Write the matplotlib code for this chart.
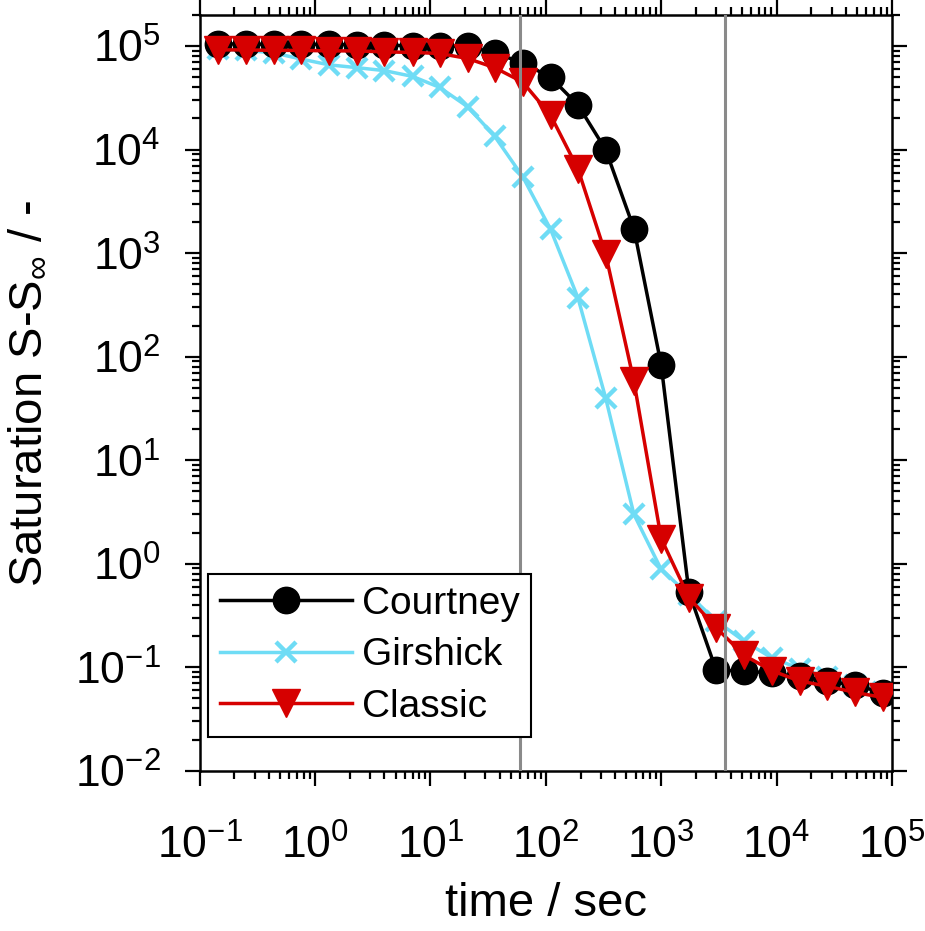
import matplotlib
matplotlib.use("Agg")
import matplotlib.pyplot as plt
from matplotlib import ticker

plt.rcParams["font.family"] = ["Liberation Sans", "DejaVu Sans"]
plt.rcParams["mathtext.fontset"] = "custom"
plt.rcParams["mathtext.rm"] = "Liberation Sans"
plt.rcParams["mathtext.it"] = "Liberation Sans:italic"
plt.rcParams["mathtext.bf"] = "Liberation Sans:bold"
plt.rcParams["axes.unicode_minus"] = False

# time points (s), shared by all three series
time_s = [0.145, 0.25, 0.44, 0.76, 1.32, 2.3, 4.0, 7.0, 12.0, 21.0, 36.0,
          63.0, 110.0, 190.0, 330.0, 580.0, 1000.0, 1740.0, 3000.0, 5250.0,
          9100.0, 15800.0, 27500.0, 48000.0, 83000.0]

courtney = [1.05e5, 1.05e5, 1.04e5, 1.04e5, 1.04e5, 1.03e5, 1.02e5, 1.01e5,
            1.0e5, 1.0e5, 8.6e4, 6.9e4, 5.0e4, 2.7e4, 1.0e4, 1.73e3, 83.0,
            0.53, 0.093, 0.0925, 0.087, 0.0815, 0.0735, 0.0668, 0.0569]

girshick = [9.4e4, 9.1e4, 8.6e4, 7.5e4, 6.6e4, 6.2e4, 5.8e4, 5.1e4, 4.0e4,
            2.6e4, 1.35e4, 5.5e3, 1.7e3, 370.0, 40.0, 3.0, 0.88, 0.5, 0.28,
            0.178, 0.123, 0.097, 0.08, 0.068, 0.058]

classic = [9.2e4, 9.2e4, 9.1e4, 9.1e4, 9.0e4, 9.0e4, 8.8e4, 8.7e4, 8.5e4,
           7.6e4, 6.2e4, 4.5e4, 2.15e4, 6.5e3, 9.8e2, 58.0, 1.75, 0.47,
           0.24, 0.13, 0.0925, 0.0735, 0.0655, 0.057, 0.051]

# reference times: 1 minute and 1 hour
marker_times = [60.0, 3600.0]

# decade ticks
x_ticks = [1e-1, 1e0, 1e1, 1e2, 1e3, 1e4, 1e5]
y_ticks = [1e-2, 1e-1, 1e0, 1e1, 1e2, 1e3, 1e4, 1e5]

fig = plt.figure(figsize=(9.25, 9.31), dpi=100)
ax = fig.add_axes([0.2158, 0.1722, 0.7485, 0.8117])

ax.plot(time_s, courtney, color="black", lw=2.5, marker="o", ms=19,
        label="Courtney", zorder=3)
ax.plot(time_s, girshick, color="#6fdcf5", lw=2.5, marker="x", ms=15,
        mew=3.2, label="Girshick", zorder=2)
ax.plot(time_s, classic, color="#d60000", lw=2.5, marker="v", ms=20,
        label="Classic", zorder=4)

for t in marker_times:
    ax.axvline(t, color="#8a8a8a", lw=2.2, zorder=5)

ax.set_xscale("log")
ax.set_yscale("log")
ax.set_xlim(1e-1, 1e5)
ax.set_ylim(1e-2, 2e5)

ax.xaxis.set_major_locator(ticker.FixedLocator(x_ticks))
ax.yaxis.set_major_locator(ticker.FixedLocator(y_ticks))
ax.xaxis.set_minor_locator(ticker.LogLocator(base=10, subs=range(2, 10),
                                             numticks=100))
ax.yaxis.set_minor_locator(ticker.LogLocator(base=10, subs=range(2, 10),
                                             numticks=100))
ax.xaxis.set_minor_formatter(ticker.NullFormatter())
ax.yaxis.set_minor_formatter(ticker.NullFormatter())

ax.tick_params(which="both", direction="out", top=True, right=True,
               width=1.6, labelsize=32)
ax.tick_params(which="major", length=11)
ax.tick_params(which="minor", length=6)
ax.tick_params(axis="x", pad=28)
ax.tick_params(axis="y", pad=17)
for s in ax.spines.values():
    s.set_linewidth(1.8)

ax.set_xlabel("time / sec", fontsize=34, labelpad=10)
ax.set_ylabel("Saturation S-S$_{\\infty}$ / -", fontsize=34, labelpad=18)

leg = ax.legend(loc="lower left", bbox_to_anchor=(0.012, 0.045),
                borderaxespad=0, fontsize=28, handlelength=3.4,
                handletextpad=0.25, labelspacing=0.4, borderpad=0.3,
                numpoints=1, fancybox=False, framealpha=1)
leg.get_frame().set_edgecolor("black")
leg.get_frame().set_linewidth(1.5)

fig.savefig("out.png", dpi=100)
